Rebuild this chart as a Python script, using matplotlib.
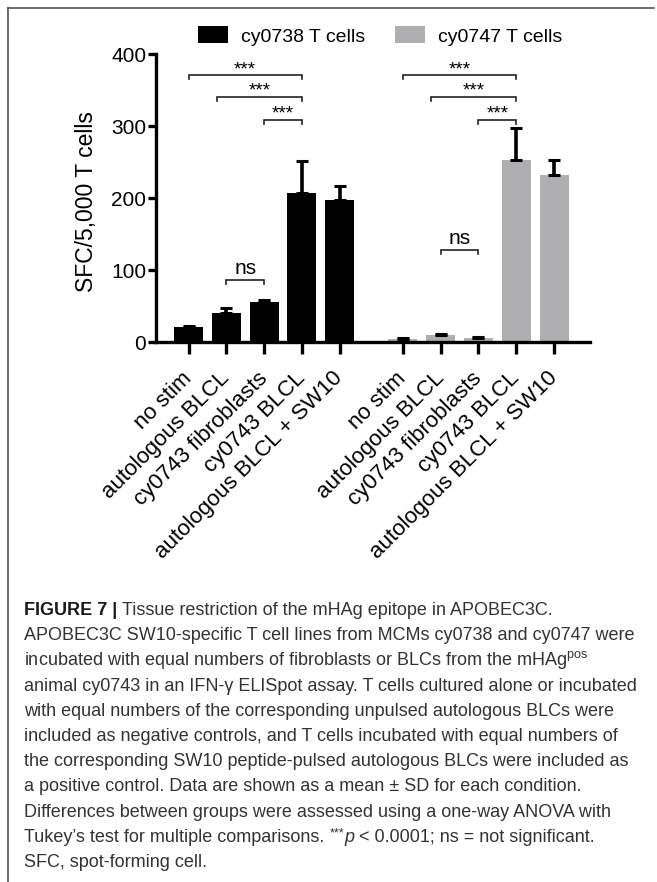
import numpy as np
import matplotlib
matplotlib.use('Agg')
import matplotlib.pyplot as plt
from matplotlib.lines import Line2D

plt.rcParams['font.family'] = ['Liberation Sans', 'DejaVu Sans']
plt.rcParams['mathtext.fontset'] = 'custom'
plt.rcParams['mathtext.rm'] = 'Liberation Sans'
plt.rcParams['mathtext.it'] = 'Liberation Sans:italic'
plt.rcParams['mathtext.bf'] = 'Liberation Sans:bold'

conditions = ['no stim', 'autologous BLCL', 'cy0743 fibroblasts',
              'cy0743 BLCL', 'autologous BLCL + SW10']
series = ['cy0738 T cells', 'cy0747 T cells']
cy0738_mean = [21, 40, 56, 208, 197]
cy0738_sd = [1, 7, 3, 44, 20]
cy0747_mean = [5, 10, 6, 253, 233]
cy0747_sd = [1, 1.5, 1, 44, 20]
colors = ['#000000', '#afafb2']

# (bar a, bar b, bracket height, label) within each group
comparisons_0738 = [(0, 3, 371, '***'), (1, 3, 341, '***'),
                    (2, 3, 309, '***'), (1, 2, 86, 'ns')]
comparisons_0747 = [(0, 3, 371, '***'), (1, 3, 341, '***'),
                    (2, 3, 309, '***'), (1, 2, 128, 'ns')]

caption = [
    'Tissue restriction of the mHAg epitope in APOBEC3C.',
    'APOBEC3C SW10-specific T cell lines from MCMs cy0738 and cy0747 were',
    r'incubated with equal numbers of fibroblasts or BLCs from the mHAg$^{\rm pos}$',
    'animal cy0743 in an IFN-\u03b3 ELISpot assay. T cells cultured alone or incubated',
    'with equal numbers of the corresponding unpulsed autologous BLCs were',
    'included as negative controls, and T cells incubated with equal numbers of',
    'the corresponding SW10 peptide-pulsed autologous BLCs were included as',
    'a positive control. Data are shown as a mean \u00b1 SD for each condition.',
    'Differences between groups were assessed using a one-way ANOVA with',
    ['Tukey’s test for multiple comparisons.', '***', 'p',
     '< 0.0001; ns = not significant.'],
    'SFC, spot-forming cell.',
]

W, H = 657, 882
fig = plt.figure(figsize=(W / 100, H / 100), dpi=100)
ax = fig.add_axes([156 / W, 1 - 342.3 / H, 434 / W, 288 / H])

lw = 2.4
x1 = np.arange(5)
x2 = np.arange(5) + 5.67
groups = [(x1, cy0738_mean, cy0738_sd, comparisons_0738),
          (x2, cy0747_mean, cy0747_sd, comparisons_0747)]

for k, (xs, mean, sd, comps) in enumerate(groups):
    ax.bar(xs, mean, width=0.77, color=colors[k], label=series[k], zorder=2)
    ax.errorbar(xs, mean, yerr=[np.zeros(5), sd], fmt='none', ecolor='black',
                elinewidth=2.6, capsize=4.6, capthick=2.2, zorder=3, clip_on=False)
    for a, b, y, lab in comps:
        xa = xs[a] - (0.25 if b - a == 2 else 0)
        xb = xs[b]
        ax.plot([xa, xa, xb, xb], [y - 5.5, y, y, y - 5.5], color='#222222',
                lw=1.2, solid_joinstyle='miter', zorder=4)
        if lab == 'ns':
            ax.text((xa + xb) / 2, y + 9, lab, ha='center', va='baseline',
                    fontsize=15)
        else:
            ax.text((xa + xb) / 2, y + 1.5, lab, ha='center', va='baseline',
                    fontsize=13.5)

ax.set_xlim(-0.86, 10.62)
ax.set_ylim(0, 400)
ax.set_yticks([0, 100, 200, 300, 400])
ax.set_xticks(np.r_[x1, x2])
ax.set_xticklabels(conditions * 2, rotation=45, ha='right', va='center',
                   rotation_mode='anchor', fontsize=16)
ax.tick_params(axis='x', length=8.6, width=lw, pad=15)
ax.tick_params(axis='y', length=6, width=lw, pad=1, labelsize=15)
for s in ['top', 'right']:
    ax.spines[s].set_visible(False)
for s in ['left', 'bottom']:
    ax.spines[s].set_linewidth(lw)
ax.set_ylabel('SFC/5,000 T cells', fontsize=16.5)
ax.yaxis.set_label_coords(-0.133, 0.49)

ax.legend(loc='center', bbox_to_anchor=(380 / W, 1 - 36 / H),
          bbox_transform=fig.transFigure, ncol=2, frameon=False, fontsize=14,
          handlelength=1.55, handleheight=0.95, handletextpad=0.65,
          columnspacing=1.55, borderpad=0, borderaxespad=0)

# frame
fig.add_artist(Line2D([7.5 / W, 654 / W], [1 - 7.5 / H] * 2,
                      transform=fig.transFigure, color='#444444', lw=1.1))
fig.add_artist(Line2D([7.5 / W] * 2, [0, 1 - 7.5 / H],
                      transform=fig.transFigure, color='#444444', lw=1.1))

# caption
renderer = fig.canvas.get_renderer()
base0, step, cap_fs = 615, 25.2, 13
space = 0.278 * cap_fs * 100 / 72
txt_color = '#333333'
head = fig.text(24 / W, 1 - base0 / H, 'FIGURE 7 |', fontsize=cap_fs,
                fontweight='bold', color='#1a1a1a', va='baseline')
bb = head.get_window_extent(renderer)
for i, line in enumerate(caption):
    yb = H - (base0 + i * step)
    if isinstance(line, list):
        pre, stars, p, post = line
        t = fig.text(24 / W, yb / H, pre, fontsize=cap_fs, color=txt_color,
                     va='baseline')
        xe = t.get_window_extent(renderer).x1 + space
        t = fig.text(xe / W, (yb + 5) / H, stars, fontsize=9, color=txt_color,
                     va='baseline')
        xe = t.get_window_extent(renderer).x1 + 0.5
        t = fig.text(xe / W, yb / H, p, fontsize=cap_fs, style='italic',
                     color=txt_color, va='baseline')
        xe = t.get_window_extent(renderer).x1 + space
        fig.text(xe / W, yb / H, post, fontsize=cap_fs, color=txt_color,
                 va='baseline')
        continue
    x0 = (bb.x1 + space) / W if i == 0 else 24 / W
    fig.text(x0, yb / H, line, fontsize=cap_fs, color=txt_color, va='baseline')

fig.savefig('out.png', dpi=100)
